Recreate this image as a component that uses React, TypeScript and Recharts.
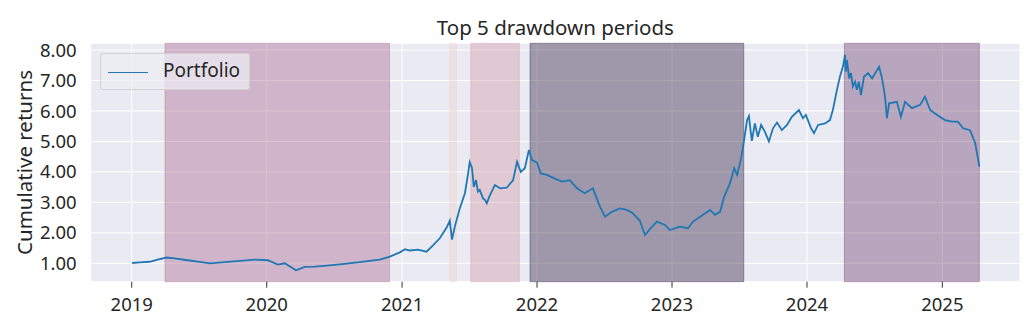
import React from 'react';
import { LineChart, Line, XAxis, YAxis, CartesianGrid, ReferenceArea } from 'recharts';

// cumulative returns
const dates = [
  '2019-01-02', '2019-01-23', '2019-02-18', '2019-03-12', '2019-04-05', '2019-04-27', '2019-06-01',
  '2019-07-09', '2019-07-31', '2019-09-01', '2019-10-20', '2019-11-30', '2020-01-04', '2020-01-31',
  '2020-02-19', '2020-03-20', '2020-04-13', '2020-05-10', '2020-06-19', '2020-07-29', '2020-09-08',
  '2020-11-02', '2020-11-29', '2020-12-26', '2021-01-09', '2021-01-22', '2021-02-13', '2021-03-08',
  '2021-03-25', '2021-04-13', '2021-05-02', '2021-05-10', '2021-05-16', '2021-05-24', '2021-06-06',
  '2021-06-20', '2021-06-28', '2021-07-03', '2021-07-09', '2021-07-14', '2021-07-20', '2021-07-25',
  '2021-07-30', '2021-08-08', '2021-08-13', '2021-08-18', '2021-08-26', '2021-09-09', '2021-09-23',
  '2021-10-11', '2021-10-28', '2021-11-08', '2021-11-18', '2021-11-29', '2021-12-10', '2021-12-18',
  '2022-01-01', '2022-01-11', '2022-01-28', '2022-02-18', '2022-03-09', '2022-03-31', '2022-04-19',
  '2022-05-10', '2022-06-01', '2022-06-20', '2022-07-04', '2022-07-22', '2022-08-13', '2022-09-01',
  '2022-09-17', '2022-10-06', '2022-10-20', '2022-11-02', '2022-11-21', '2022-12-13', '2022-12-26',
  '2023-01-22', '2023-02-13', '2023-02-27', '2023-03-26', '2023-04-14', '2023-04-27', '2023-05-11',
  '2023-05-22', '2023-06-07', '2023-06-18', '2023-06-26', '2023-07-07', '2023-07-15', '2023-07-23',
  '2023-07-28', '2023-08-02', '2023-08-05', '2023-08-13', '2023-08-21', '2023-08-30', '2023-09-09',
  '2023-09-20', '2023-10-01', '2023-10-12', '2023-10-25', '2023-11-08', '2023-11-21', '2023-12-10',
  '2023-12-21', '2023-12-29', '2024-01-12', '2024-01-20', '2024-01-31', '2024-02-19', '2024-03-03',
  '2024-03-11', '2024-03-22', '2024-03-30', '2024-04-07', '2024-04-13', '2024-04-15', '2024-04-18',
  '2024-04-24', '2024-04-29', '2024-05-04', '2024-05-10', '2024-05-15', '2024-05-20', '2024-05-26',
  '2024-06-03', '2024-06-14', '2024-06-25', '2024-07-06', '2024-07-14', '2024-07-22', '2024-07-30',
  '2024-08-04', '2024-08-10', '2024-08-31', '2024-09-11', '2024-09-22', '2024-10-11', '2024-11-02',
  '2024-11-15', '2024-11-29', '2024-12-18', '2025-01-08', '2025-01-27', '2025-02-12', '2025-02-26',
  '2025-03-17', '2025-03-31', '2025-04-11',
];

const portfolio = [
  1.01, 1.03, 1.05, 1.12, 1.19, 1.16, 1.10,
  1.04, 1.00, 1.03, 1.08, 1.12, 1.10, 0.96,
  1.00, 0.77, 0.88, 0.89, 0.93, 0.98, 1.04,
  1.12, 1.22, 1.36, 1.46, 1.42, 1.45, 1.38,
  1.58, 1.82, 2.18, 2.40, 1.78, 2.22, 2.80,
  3.30, 3.90, 4.32, 4.13, 3.51, 3.73, 3.35,
  3.41, 3.13, 3.08, 2.97, 3.22, 3.57, 3.46,
  3.48, 3.72, 4.33, 4.00, 4.12, 4.72, 4.39,
  4.30, 3.95, 3.90, 3.78, 3.68, 3.73, 3.46,
  3.30, 3.46, 2.86, 2.53, 2.69, 2.80, 2.75,
  2.64, 2.40, 1.93, 2.12, 2.37, 2.26, 2.09,
  2.20, 2.15, 2.37, 2.59, 2.75, 2.59, 2.69,
  3.19, 3.63, 4.12, 3.90, 4.45, 5.05, 5.70,
  5.83, 5.30, 5.02, 5.59, 5.15, 5.54, 5.32,
  5.00, 5.43, 5.62, 5.37, 5.54, 5.81, 6.03,
  5.76, 5.87, 5.43, 5.27, 5.54, 5.59, 5.70,
  6.03, 6.69, 7.12, 7.45, 7.84, 7.29, 7.67,
  7.07, 7.24, 6.80, 6.96, 6.69, 6.96, 6.52,
  7.12, 7.24, 7.07, 7.29, 7.45, 7.07, 6.47,
  5.76, 6.25, 6.30, 5.81, 6.30, 6.09, 6.20,
  6.47, 6.03, 5.87, 5.70, 5.65, 5.65, 5.43,
  5.37, 4.94, 4.17,
];

// top 5 drawdown periods (peak -> recovery)
const ddStart = ['2019-04-01', '2021-05-10', '2021-07-06', '2021-12-13', '2024-04-11'];
const ddEnd = ['2020-11-28', '2021-05-28', '2021-11-14', '2023-07-14', '2025-04-11'];
const ddColors = ['#aa678f', '#edd1cb', '#d499a7', '#2d1e3e', '#6e4071'];

const yearTicks = [2019, 2020, 2021, 2022, 2023, 2024, 2025];
const yTicks = [1, 2, 3, 4, 5, 6, 7, 8];

const ts = (d: string) => Date.parse(d + 'T00:00:00Z');

const data = dates.map((d, i) => ({ t: ts(d), value: portfolio[i] }));
const xTicks = yearTicks.map(y => Date.UTC(y, 0, 1));

const FONT = '"Noto Sans", sans-serif';
const TEXT = '#262626';

const App: React.FC = () => {
  return (
    <div style={{ position: 'absolute', left: 0, top: 0, width: 1024, height: 335, fontFamily: FONT }}>
      <LineChart
        width={1024}
        height={335}
        data={data}
        margin={{ top: 43.3, right: 4, bottom: 0, left: 10.7 }}
      >
        <CartesianGrid stroke="#ffffff" strokeWidth={1} fill="#EAEAF2" fillOpacity={1} />
        <XAxis
          dataKey="t"
          type="number"
          scale="time"
          domain={[ts('2018-09-12'), ts('2025-07-30')]}
          ticks={xTicks}
          tickFormatter={(v: number) => String(new Date(v).getUTCFullYear())}
          axisLine={false}
          tickSize={6}
          tickLine={{ stroke: '#333333' }}
          tickMargin={10}
          height={53.3}
          tick={{ fill: TEXT, fontSize: 18.5, fontFamily: FONT }}
        />
        <YAxis
          type="number"
          domain={[0.396, 8.22]}
          ticks={yTicks}
          tickFormatter={(v: number) => v.toFixed(2)}
          axisLine={false}
          tickLine={false}
          tickSize={0}
          tickMargin={14}
          width={80}
          tick={{ fill: TEXT, fontSize: 18.5, fontFamily: FONT }}
          label={{
            content: () => (
              <text
                x={31.7}
                y={162.5}
                transform="rotate(-90 31.7 162.5)"
                textAnchor="middle"
                fill={TEXT}
                fontSize={20.5}
                fontFamily={FONT}
              >
                Cumulative returns
              </text>
            ),
          }}
        />
        {ddStart.map((s, i) => (
          <ReferenceArea
            key={s}
            x1={ts(s)}
            x2={ts(ddEnd[i])}
            fill={ddColors[i]}
            fillOpacity={0.4}
            stroke={ddColors[i]}
            strokeOpacity={0.4}
            strokeWidth={1}
          />
        ))}
        <Line
          type="linear"
          dataKey="value"
          stroke="#1f77b4"
          strokeWidth={1.8}
          dot={false}
          activeDot={false}
          isAnimationActive={false}
        />
      </LineChart>

      <div
        style={{
          position: 'absolute', left: 90.7, width: 929.3, top: 18, textAlign: 'center',
          fontSize: 20.5, lineHeight: '19px', color: TEXT, whiteSpace: 'nowrap',
        }}
      >
        Top 5 drawdown periods
      </div>

      <div
        style={{
          position: 'absolute', left: 100, top: 53, width: 150, height: 37, boxSizing: 'border-box',
          border: '1px solid rgba(204,204,204,0.8)', borderRadius: 3, background: 'rgba(236,236,243,0.75)',
        }}
      >
        <div style={{ position: 'absolute', left: 7, top: 17.5, width: 40, height: 1.5, background: '#1f77b4' }} />
        <div
          style={{
            position: 'absolute', left: 62, top: 7, fontSize: 19, lineHeight: '19px', color: TEXT, whiteSpace: 'nowrap',
          }}
        >
          Portfolio
        </div>
      </div>
    </div>
  );
};

export default App;
